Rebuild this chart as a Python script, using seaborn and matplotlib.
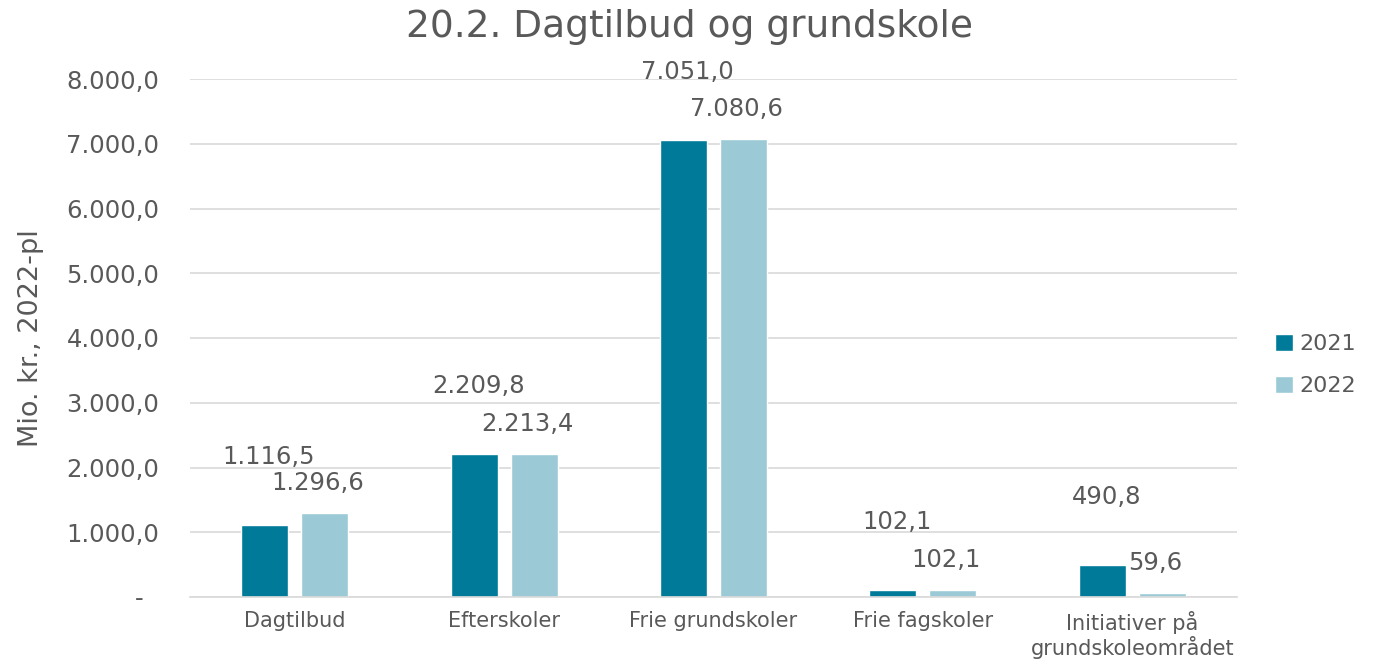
import matplotlib
matplotlib.use("Agg")
import matplotlib.pyplot as plt
import seaborn as sns
import pandas as pd
from matplotlib.ticker import FuncFormatter, MultipleLocator

categories = ["Dagtilbud", "Efterskoler", "Frie grundskoler", "Frie fagskoler",
              "Initiativer på\ngrundskoleområdet"]
years = ["2021", "2022"]
values_2021 = [1116.5, 2209.8, 7051.0, 102.1, 490.8]
values_2022 = [1296.6, 2213.4, 7080.6, 102.1, 59.6]

df = pd.DataFrame({
    "Kategori": categories * 2,
    "År": [years[0]] * len(categories) + [years[1]] * len(categories),
    "Værdi": values_2021 + values_2022,
})

TXT = "#595959"
C21 = "#007A99"
C22 = "#9BCAD6"

sns.set_theme(style="white")
plt.rcParams["font.family"] = ["DejaVu Sans"]

fig = plt.figure(figsize=(13.79, 6.63), dpi=100)
ax = fig.add_axes([190 / 1379, 1 - 597 / 663, (1237 - 190) / 1379, (597 - 79) / 663])

sns.barplot(data=df, x="Kategori", y="Værdi", hue="År", hue_order=years,
            palette=[C21, C22], width=0.573, gap=0.217, ax=ax,
            saturation=1, errorbar=None)


def dk(v, decimals=1):
    if abs(v) < 1e-9:
        return "-  "
    s = f"{v:,.{decimals}f}"
    return s.replace(",", "X").replace(".", ",").replace("X", ".")


ax.set_ylim(0, 8000)
ax.yaxis.set_major_locator(MultipleLocator(1000))
ax.yaxis.set_major_formatter(FuncFormatter(lambda v, p: dk(v)))
ax.grid(axis="y", color="#D9D9D9", linewidth=1.2)
ax.set_axisbelow(True)
for s in ["top", "right", "left"]:
    ax.spines[s].set_visible(False)
ax.spines["bottom"].set_color("#D9D9D9")
ax.spines["bottom"].set_linewidth(1.2)
ax.tick_params(axis="y", length=0, pad=22, labelsize=17.5, labelcolor=TXT)
ax.tick_params(axis="x", length=0, pad=10, labelsize=15, labelcolor=TXT)
for lbl in ax.get_xticklabels():
    lbl.set_linespacing(1.1)
ax.set_xlabel("")
ax.set_ylabel("Mio. kr., 2022-pl", fontsize=19.5, color=TXT, labelpad=16)

# data labels
offsets = {0: (3, 49), 1: (-5, 21.6)}
for i, cont in enumerate(ax.containers):
    dx, dy = offsets[i]
    for bar, val in zip(cont, [values_2021, values_2022][i]):
        x = bar.get_x() + bar.get_width() / 2
        ax.annotate(dk(val), (x, bar.get_height()), xytext=(dx, dy),
                    textcoords="offset points", ha="center", va="center",
                    fontsize=17.5, color=TXT, annotation_clip=False)

sns.move_legend(ax, loc="center left", bbox_to_anchor=(1255 / 1379, 1 - 365 / 663),
                bbox_transform=fig.transFigure, frameon=False, title=None,
                fontsize=16, handlelength=0.8, handleheight=0.8,
                handletextpad=0.3, labelspacing=1.0, labelcolor=TXT)

fig.suptitle("20.2. Dagtilbud og grundskole", x=0.5, y=1 - 9 / 663, va="top",
             fontsize=27, color=TXT)

fig.savefig("out.png", dpi=100, facecolor="white")
